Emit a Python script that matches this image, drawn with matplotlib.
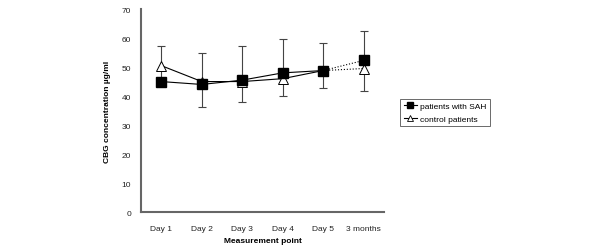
import numpy as np
import matplotlib
matplotlib.use("Agg")
import matplotlib.pyplot as plt
from matplotlib.lines import Line2D

plt.rcParams['font.family'] = ['Liberation Sans', 'DejaVu Sans']

points = ["Day 1", "Day 2", "Day 3", "Day 4", "Day 5", "3 months"]
sah = [45.0, 44.0, 45.5, 48.0, 48.8, 52.3]
control = [50.5, 45.0, 45.0, 46.0, 48.8, 49.5]
err_high = [57.3, 54.7, 57.1, 59.6, 58.4, 62.6]
err_low = [43.5, 36.4, 37.8, 40.1, 42.8, 41.7]

x = np.arange(len(points))
sah = np.array(sah)
control = np.array(control)

fig = plt.figure(figsize=(6, 2.51), dpi=100)
ax = fig.add_axes([0.235, 0.151, 0.405, 0.809])

# error bars
yerr = [sah - np.array(err_low), np.array(err_high) - sah]
ax.errorbar(x, sah, yerr=yerr, fmt='none', ecolor='#444444', elinewidth=0.8,
            capsize=3, capthick=0.8, zorder=2)

# solid part (days) and dotted part (to 3 months)
ax.plot(x[:5], sah[:5], color='black', lw=0.8, zorder=3)
ax.plot(x[4:], sah[4:], color='black', lw=0.8, ls=':', zorder=3)
ax.plot(x[:5], control[:5], color='black', lw=0.8, zorder=3)
ax.plot(x[4:], control[4:], color='black', lw=0.8, ls=':', zorder=3)

ax.plot(x, control, ls='none', marker='^', ms=6.5, mfc='white', mec='black',
        mew=0.7, zorder=4)
ax.plot(x, sah, ls='none', marker='s', ms=6.5, mfc='black', mec='black', zorder=5)

ax.set_xlim(-0.5, 5.5)
ax.set_ylim(0, 70)
ax.set_yticks(range(0, 71, 10))
ax.set_xticks(x)
ax.set_xticklabels(points)
ax.tick_params(axis='both', length=0, labelsize=6, colors='#222222')
ax.tick_params(axis='x', pad=9)
ax.tick_params(axis='y', pad=7)

for s in ['top', 'right']:
    ax.spines[s].set_visible(False)
for s in ['left', 'bottom']:
    ax.spines[s].set_color('#666666')
    ax.spines[s].set_linewidth(1.5)

ax.set_xlabel("Measurement point", fontsize=6, fontweight='bold', labelpad=4)
ax.set_ylabel("CBG concentration µg/ml", fontsize=6, fontweight='bold', labelpad=8)

handles = [
    Line2D([], [], color='black', lw=0.8, marker='s', ms=4, mfc='black'),
    Line2D([], [], color='black', lw=0.8, marker='^', ms=4, mfc='white', mew=0.6),
]
leg = fig.legend(handles, ["patients with SAH", "control patients"],
                 loc='upper left', bbox_to_anchor=(0.66, 0.618), fontsize=6,
                 frameon=True, fancybox=False, edgecolor='#444444',
                 handlelength=1.6, handletextpad=0.4, borderpad=0.4,
                 labelspacing=0.6)
leg.get_frame().set_linewidth(0.7)

fig.savefig("out.png", dpi=100)
